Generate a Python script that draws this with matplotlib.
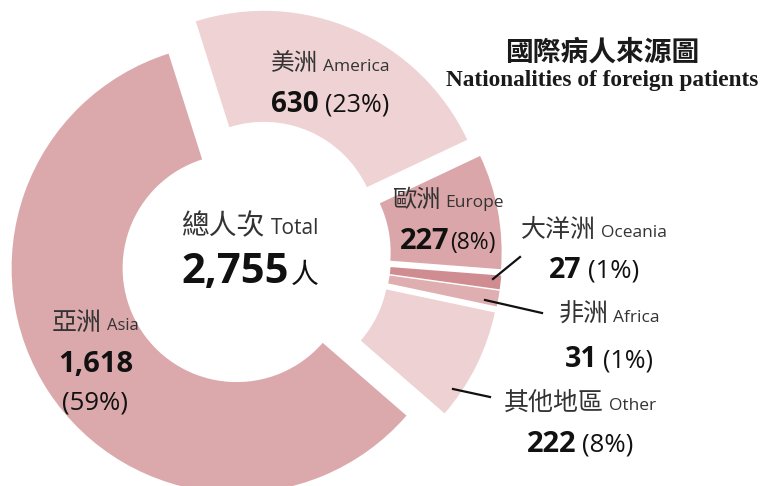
import matplotlib.pyplot as plt

# data (order = drawing order, counter-clockwise from the top of Asia)
regions = ['亞洲', '其他地區', '非洲', '大洋洲', '歐洲', '美洲']
regions_en = ['Asia', 'Other', 'Africa', 'Oceania', 'Europe', 'America']
patients = [1618, 222, 31, 27, 227, 630]
shares = ['59%', '8%', '1%', '1%', '8%', '23%']
total = 2755
colors = ['#DBA9AC', '#EED1D2', '#DFAEB1', '#CF8D92', '#DAA6A9', '#EFD2D3']

W, H = 776, 486
fig = plt.figure(figsize=(W / 100, H / 100), dpi=100)
ax = fig.add_axes([0, 0, 1, 1])

# donut, coordinates in pixels (y measured from the bottom)
ax.pie(patients, colors=colors, startangle=107.6, counterclock=True,
       radius=225, center=(255, H - 256), explode=[22] * len(patients),
       wedgeprops=dict(width=111, linewidth=0))
ax.set_xlim(0, W)
ax.set_ylim(0, H)
ax.set_aspect('equal')
ax.axis('off')

renderer = fig.canvas.get_renderer()
CJK = ['Noto Sans CJK TC', 'DejaVu Sans']
LAT = ['Open Sans', 'Noto Sans CJK TC']
GRAY = '#333333'
BLACK = '#111111'


def row(x, yb, parts):
    # parts: (text, size, bold, family, color, gap after)
    ts, gaps = [], []
    for s, size, bold, fam, col, gap in parts:
        t = ax.text(0, H - yb, s, fontsize=size, family=fam, color=col,
                    fontweight='bold' if bold else 'normal',
                    ha='left', va='baseline')
        ts.append(t)
        gaps.append(gap)
    ws = [t.get_window_extent(renderer).width for t in ts]
    x0 = x - (sum(ws) + sum(gaps[:-1])) / 2
    for t, w, g in zip(ts, ws, gaps):
        t.set_x(x0)
        x0 += w + g


def label(x, y1, y2, i, cjk, en, num, pct, gap=6):
    row(x, y1, [(regions[i], cjk, False, CJK, GRAY, 5),
                (regions_en[i], en, False, LAT, GRAY, 0)])
    row(x, y2, [(f'{patients[i]:,}', num, True, LAT, BLACK, gap),
                (f'({shares[i]})', pct, False, LAT, BLACK, 0)])


label(330, 71, 112, 5, 17, 12.5, 20, 18)
label(448, 207, 249, 4, 17.5, 12.5, 21, 16.5, gap=1)
label(594, 237, 278, 3, 18, 12.5, 20.5, 18.5)
label(609, 322, 367, 2, 18, 12.5, 20.5, 18)
label(580, 410, 452, 1, 18, 12.5, 21, 18.5)

# Asia label: three lines
row(95, 330, [(regions[0], 18, False, CJK, GRAY, 5),
              (regions_en[0], 12, False, LAT, GRAY, 0)])
row(96, 372, [(f'{patients[0]:,}', 21, True, LAT, BLACK, 0)])
row(95, 410, [(f'({shares[0]})', 18.5, False, LAT, BLACK, 0)])

# centre
row(250, 234, [('總人次', 20, False, CJK, GRAY, 6),
               ('Total', 15, False, LAT, GRAY, 0)])
row(250, 283, [(f'{total:,}', 30, True, LAT, BLACK, 2),
               ('人', 20, False, CJK, BLACK, 0)])

# title
row(602, 61, [('國際病人來源圖', 20, True, CJK, '#1a1a1a', 0)])
sub = ax.text(602, H - 86, 'Nationalities of foreign patients', fontsize=20,
              family='Liberation Serif', fontweight='bold', color='#1a1a1a',
              ha='center', va='baseline')
w = sub.get_window_extent(renderer).width
sub.set_fontsize(20 * 313 / w)

# leader lines
lines = [((493, 279), (520, 257)),
         ((485, 300), (542, 313)),
         ((453, 389), (490, 397))]
for (xa, ya), (xb, yb) in lines:
    ax.plot([xa, xb], [H - ya, H - yb], color='#111111', lw=1.6)

fig.savefig('out.png', dpi=100, facecolor='white')
